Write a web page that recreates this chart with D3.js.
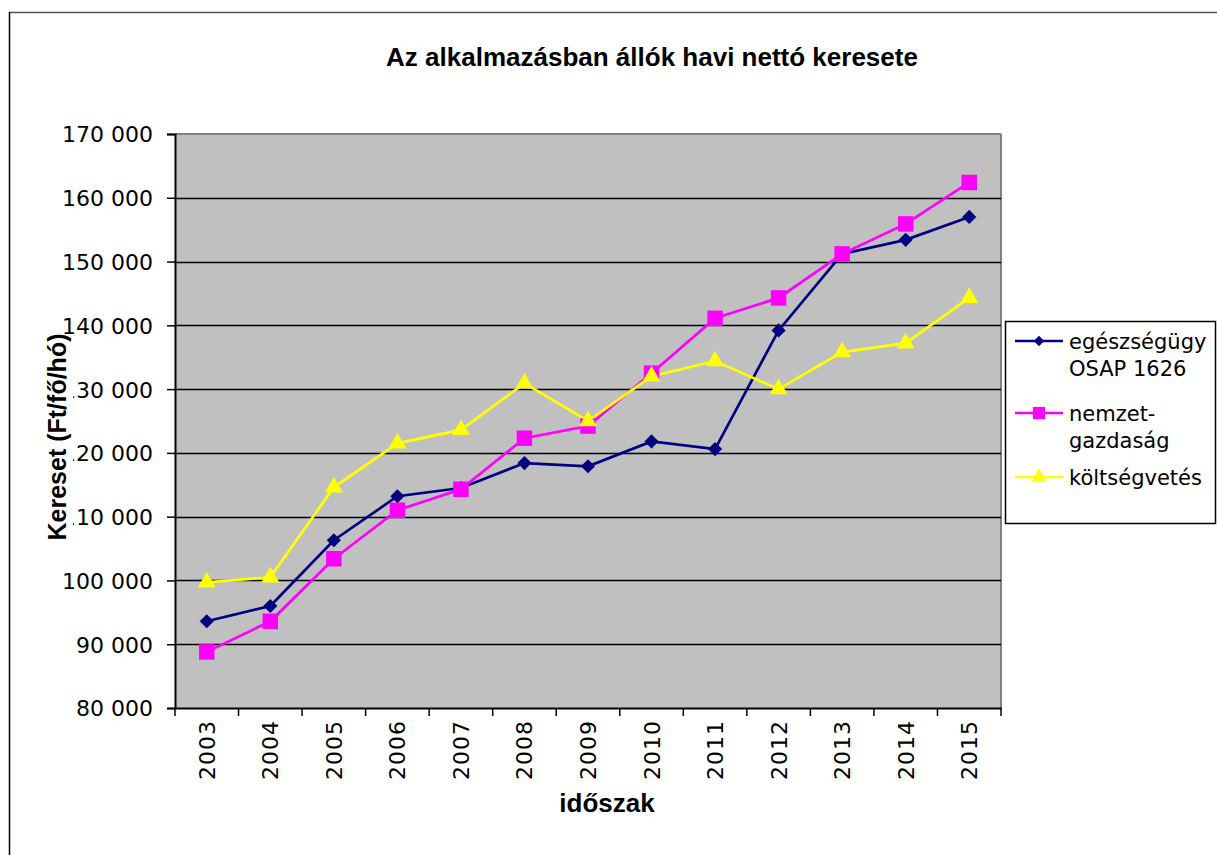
<!DOCTYPE html>
<html>
<head>
<meta charset="utf-8">
<script src="https://cdn.jsdelivr.net/npm/d3@7"></script>
<style>
	body { margin: 0; background: #ffffff; }
	svg { display: block; }
</style>
</head>
<body>
<svg id="svg" width="1217" height="855"></svg>
<script>
var years = ["2003", "2004", "2005", "2006", "2007", "2008", "2009", "2010", "2011", "2012", "2013", "2014", "2015"];
var egeszseg = [93600, 96000, 106300, 113200, 114500, 118400, 117900, 121800, 120600, 139200, 151200, 153400, 157000];
var nemzet = [88800, 93600, 103400, 111000, 114300, 122300, 124200, 132500, 141100, 144300, 151200, 155900, 162400];
var koltseg = [99700, 100500, 114600, 121500, 123600, 130900, 125000, 132000, 134400, 130000, 135800, 137200, 144300];
var yTicks = [80000, 90000, 100000, 110000, 120000, 130000, 140000, 150000, 160000, 170000];

var seriesNames = [["egészségügy", "OSAP 1626"], ["nemzet-", "gazdaság"], ["költségvetés"]];
var seriesColors = ["#000080", "#ff00ff", "#ffff00"];
var seriesShapes = ["diamond", "square", "triangle"];

var plotLeft = 175, plotRight = 1001, plotTop = 134, plotBottom = 708;
var labelFont = "'DejaVu Sans', sans-serif";
var boldFont = "'Liberation Sans', Arial, sans-serif";

draw();

function draw() {
	var svg = d3.select("#svg");

	// outer chart border (only top and left visible)
	svg.append("line").attr("x1", 9).attr("x2", 1217).attr("y1", 12.5).attr("y2", 12.5)
		.attr("stroke", "#555").attr("stroke-width", 1.5);
	svg.append("line").attr("x1", 9.5).attr("x2", 9.5).attr("y1", 12).attr("y2", 855)
		.attr("stroke", "#000").attr("stroke-width", 1.5);

	var x = d3.scaleBand().domain(years).range([plotLeft, plotRight]);
	var y = d3.scaleLinear().domain([80000, 170000]).range([plotBottom, plotTop]);

	// plot area
	svg.append("rect")
		.attr("x", plotLeft).attr("y", plotTop)
		.attr("width", plotRight - plotLeft).attr("height", plotBottom - plotTop)
		.attr("fill", "#c0c0c0");
	svg.append("line").attr("x1", plotLeft).attr("x2", plotRight).attr("y1", plotTop).attr("y2", plotTop)
		.attr("stroke", "#808080").attr("stroke-width", 2);
	svg.append("line").attr("x1", plotRight).attr("x2", plotRight).attr("y1", plotTop).attr("y2", plotBottom)
		.attr("stroke", "#808080").attr("stroke-width", 2);

	// gridlines
	svg.append("g").selectAll("line")
		.data(yTicks.filter(function(d){return d > 80000 && d < 170000;}))
		.enter().append("line")
		.attr("x1", plotLeft).attr("x2", plotRight)
		.attr("y1", function(d){return Math.round(y(d)) + 0.5;})
		.attr("y2", function(d){return Math.round(y(d)) + 0.5;})
		.attr("stroke", "#000").attr("stroke-width", 1.6);

	// y axis
	var fmt = function(d) { return d3.format(",")(d).replace(/,/g, " "); };
	var yAxis = svg.append("g")
		.attr("transform", "translate(" + plotLeft + ",0)")
		.call(d3.axisLeft(y).tickValues(yTicks).tickFormat(fmt).tickSize(8).tickPadding(14));
	yAxis.select(".domain").attr("stroke", "#000").attr("stroke-width", 2);
	yAxis.selectAll(".tick line").attr("stroke", "#000").attr("stroke-width", 1.5);
	yAxis.selectAll("text")
		.attr("font-family", labelFont).attr("font-size", 22).attr("fill", "#000")
		.attr("dy", "0.36em");

	// x axis
	var xAxis = svg.append("g")
		.attr("transform", "translate(0," + plotBottom + ")")
		.call(d3.axisBottom(x).tickSize(0).tickPadding(0));
	xAxis.select(".domain").attr("stroke", "#000").attr("stroke-width", 2);
	xAxis.selectAll("text")
		.attr("font-family", labelFont).attr("font-size", 22).attr("fill", "#000")
		.attr("text-anchor", "end")
		.attr("transform", "translate(8,12) rotate(-90)")
		.attr("y", 0).attr("dy", 0)
		.attr("letter-spacing", 1);
	// boundary ticks between categories
	svg.append("g").selectAll("line")
		.data(years.concat(["end"]))
		.enter().append("line")
		.attr("x1", function(d, i){return plotLeft + i * x.bandwidth();})
		.attr("x2", function(d, i){return plotLeft + i * x.bandwidth();})
		.attr("y1", plotBottom).attr("y2", plotBottom + 8)
		.attr("stroke", "#000").attr("stroke-width", 1.5);

	// series
	var allSeries = [egeszseg, nemzet, koltseg];
	var line = d3.line()
		.x(function(d, i){return x(years[i]) + x.bandwidth() / 2;})
		.y(function(d){return y(d);});

	allSeries.forEach(function(values, s) {
		svg.append("path")
			.datum(values)
			.attr("d", line)
			.attr("fill", "none")
			.attr("stroke", seriesColors[s])
			.attr("stroke-width", 2.7);
	});
	allSeries.forEach(function(values, s) {
		svg.append("g").selectAll("path")
			.data(values).enter()
			.append("path")
			.attr("d", markerPath(seriesShapes[s], false))
			.attr("transform", function(d, i){
				return "translate(" + (x(years[i]) + x.bandwidth() / 2) + "," + y(d) + ")" + (seriesShapes[s] == "diamond" ? " rotate(45)" : "");
			})
			.attr("fill", seriesColors[s]);
	});

	// title
	svg.append("text")
		.attr("x", 652).attr("y", 66)
		.attr("text-anchor", "middle")
		.attr("font-family", boldFont).attr("font-weight", "bold").attr("font-size", 26)
		.text("Az alkalmazásban állók havi nettó keresete");

	// y axis title, with its own white box
	svg.append("rect").attr("x", 42).attr("y", 334).attr("width", 31).attr("height", 208).attr("fill", "#fff");
	svg.append("text")
		.attr("transform", "translate(66,437) rotate(-90)")
		.attr("text-anchor", "middle")
		.attr("font-family", boldFont).attr("font-weight", "bold").attr("font-size", 25)
		.text("Kereset (Ft/fő/hó)");

	// x axis title
	svg.append("text")
		.attr("x", 607).attr("y", 812)
		.attr("text-anchor", "middle")
		.attr("font-family", boldFont).attr("font-weight", "bold").attr("font-size", 26)
		.text("időszak");

	// legend
	var legend = svg.append("g");
	legend.append("rect")
		.attr("x", 1005.5).attr("y", 321.5).attr("width", 210).attr("height", 202)
		.attr("fill", "#fff").attr("stroke", "#000").attr("stroke-width", 1.5);
	var legendY = [341, 413, 477];
	seriesNames.forEach(function(names, s) {
		legend.append("line")
			.attr("x1", 1015).attr("x2", 1063).attr("y1", legendY[s]).attr("y2", legendY[s])
			.attr("stroke", seriesColors[s]).attr("stroke-width", 2.7);
		legend.append("path")
			.attr("d", markerPath(seriesShapes[s], true))
			.attr("transform", "translate(1039," + legendY[s] + ")" + (seriesShapes[s] == "diamond" ? " rotate(45)" : ""))
			.attr("fill", seriesColors[s]);
		names.forEach(function(n, k) {
			legend.append("text")
				.attr("x", 1069).attr("y", legendY[s] + 8 + k * 27)
				.attr("font-family", labelFont).attr("font-size", 21)
				.text(n);
		});
	});
}

function markerPath(shape, small) {
	var sym;
	if (shape == "diamond") sym = d3.symbol().type(d3.symbolSquare).size(small ? 55 : 100);
	else if (shape == "square") sym = d3.symbol().type(d3.symbolSquare).size(small ? 150 : 240);
	else sym = d3.symbol().type(d3.symbolTriangle).size(small ? 95 : 140);
	return sym();
}
</script>
</body>
</html>
